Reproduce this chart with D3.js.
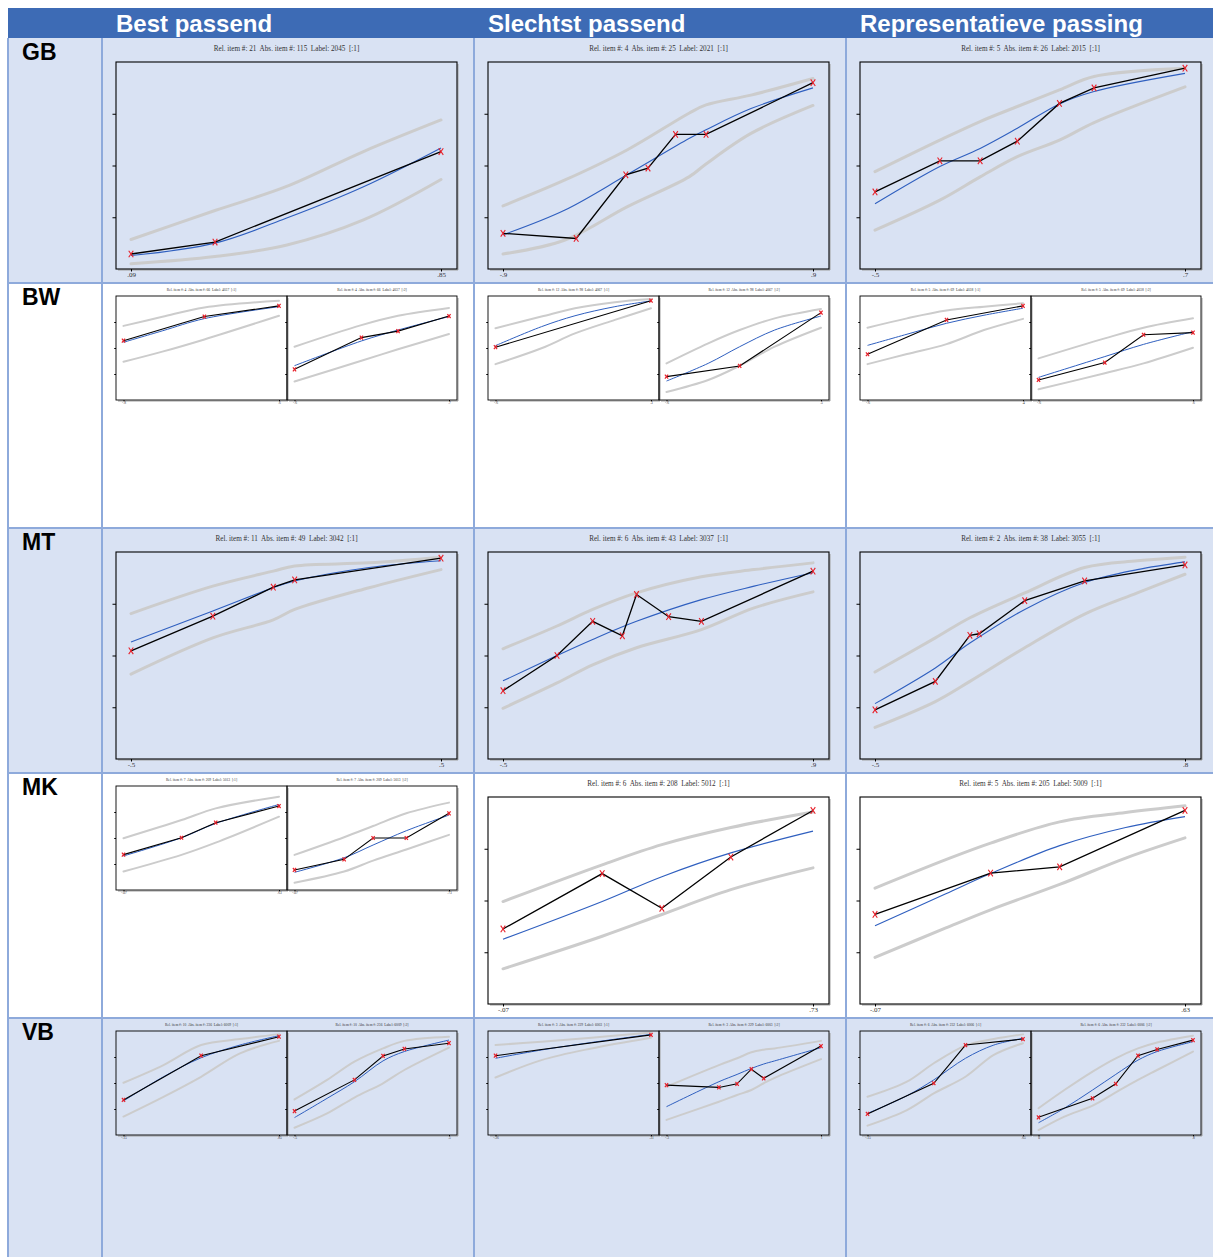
<!DOCTYPE html>
<html>
<head>
<meta charset="utf-8">
<script src="https://cdn.jsdelivr.net/npm/d3@7"></script>
<style>
  html, body { margin: 0; padding: 0; background: #ffffff; }
  svg { display: block; }
  text { white-space: pre; }
</style>
</head>
<body>
<svg id="chart" width="1213" height="1257"></svg>
<script>
// Table structure
const columns = ["Best passend", "Slechtst passend", "Representatieve passing"];
const rows = ["GB", "BW", "MT", "MK", "VB"];
// panels shown in each table cell (row -> column -> panel ids)
const cellPanels = [
  [[0], [1], [2]],
  [[3, 4], [5, 6], [7, 8]],
  [[9], [10], [11]],
  [[12, 13], [14], [15]],
  [[16, 17], [18, 19], [20, 21]]
];

const panelTitles = [
  "Rel. item #: 21  Abs. item #: 115  Label: 2045  [:1]",
  "Rel. item #: 4  Abs. item #: 25  Label: 2021  [:1]",
  "Rel. item #: 5  Abs. item #: 26  Label: 2015  [:1]",
  "Rel. item #: 4  Abs. item #: 66  Label: 4037  [:1]",
  "Rel. item #: 4  Abs. item #: 66  Label: 4037  [:2]",
  "Rel. item #: 12  Abs. item #: 98  Label: 4067  [:1]",
  "Rel. item #: 12  Abs. item #: 98  Label: 4067  [:2]",
  "Rel. item #: 5  Abs. item #: 69  Label: 4038  [:1]",
  "Rel. item #: 5  Abs. item #: 69  Label: 4038  [:2]",
  "Rel. item #: 11  Abs. item #: 49  Label: 3042  [:1]",
  "Rel. item #: 6  Abs. item #: 43  Label: 3037  [:1]",
  "Rel. item #: 2  Abs. item #: 38  Label: 3055  [:1]",
  "Rel. item #: 7  Abs. item #: 209  Label: 5013  [:1]",
  "Rel. item #: 7  Abs. item #: 209  Label: 5013  [:2]",
  "Rel. item #: 6  Abs. item #: 208  Label: 5012  [:1]",
  "Rel. item #: 5  Abs. item #: 205  Label: 5009  [:1]",
  "Rel. item #: 10  Abs. item #: 236  Label: 6009  [:1]",
  "Rel. item #: 10  Abs. item #: 236  Label: 6009  [:2]",
  "Rel. item #: 3  Abs. item #: 229  Label: 6003  [:1]",
  "Rel. item #: 3  Abs. item #: 229  Label: 6003  [:2]",
  "Rel. item #: 6  Abs. item #: 232  Label: 6006  [:1]",
  "Rel. item #: 6  Abs. item #: 232  Label: 6006  [:2]"
];

// x-axis tick values (lowest and highest measure) per panel
const xTicks = [
  [0.09, 0.85], [-0.9, 0.9], [-0.5, 0.7],
  [-0.8, 0.6], [-0.6, 0.7], [-0.6, 0.3], [-0.6, 0.5], [-0.6, 0.4], [-0.6, 0.6],
  [-0.5, 0.5], [-0.5, 0.9], [-0.5, 0.8],
  [-0.07, 0.63], [-0.07, 0.73], [-0.07, 0.73], [-0.07, 0.63],
  [-0.15, 0.85], [-0.5, 0.5], [-0.36, 0.31], [-0.3, 1], [-0.15, 0.65], [0, 0.8]
];
const yTicks = [1, 2, 3];
const yDomain = [0, 4];

// observed scores
const obsX = [
  [0.09, 0.296, 0.85],
  [-0.9, -0.475, -0.187, -0.058, 0.102, 0.279, 0.9],
  [-0.5, -0.249, -0.093, 0.051, 0.214, 0.348, 0.7],
  [-0.8, -0.072, 0.6],
  [-0.6, -0.037, 0.271, 0.7],
  [-0.6, 0.3],
  [-0.6, -0.079, 0.5],
  [-0.6, -0.092, 0.4],
  [-0.6, -0.085, 0.216, 0.6],
  [-0.5, -0.236, -0.041, 0.028, 0.5],
  [-0.5, -0.256, -0.095, 0.039, 0.103, 0.248, 0.396, 0.9],
  [-0.5, -0.247, -0.102, -0.063, 0.128, 0.379, 0.8],
  [-0.07, 0.191, 0.345, 0.63],
  [-0.07, 0.187, 0.337, 0.509, 0.73],
  [-0.07, 0.186, 0.34, 0.518, 0.73],
  [-0.07, 0.191, 0.347, 0.63],
  [-0.15, 0.349, 0.85],
  [-0.5, -0.112, 0.073, 0.211, 0.5],
  [-0.36, 0.31],
  [-0.3, 0.141, 0.294, 0.414, 0.518, 1],
  [-0.15, 0.191, 0.354, 0.65],
  [0, 0.28, 0.4, 0.515, 0.614, 0.8]
];
const obsY = [
  [0.29, 0.52, 2.27],
  [0.69, 0.59, 1.82, 1.95, 2.6, 2.6, 3.6],
  [1.49, 2.09, 2.09, 2.47, 3.2, 3.5, 3.88],
  [2.28, 3.21, 3.62],
  [1.18, 2.4, 2.65, 3.23],
  [2.03, 3.82],
  [0.9, 1.31, 3.36],
  [1.76, 3.08, 3.62],
  [0.77, 1.44, 2.51, 2.59],
  [2.09, 2.76, 3.32, 3.46, 3.88],
  [1.32, 2.0, 2.66, 2.38, 3.18, 2.75, 2.66, 3.63],
  [0.95, 1.5, 2.39, 2.42, 3.06, 3.44, 3.75],
  [1.36, 2.01, 2.59, 3.23],
  [0.77, 1.18, 2.0, 2.0, 2.95],
  [1.45, 2.52, 1.85, 2.84, 3.74],
  [1.73, 2.53, 2.65, 3.74],
  [1.35, 3.05, 3.78],
  [0.92, 2.12, 3.04, 3.31, 3.53],
  [3.05, 3.85],
  [1.92, 1.83, 1.97, 2.53, 2.18, 3.42],
  [0.81, 1.99, 3.46, 3.69],
  [0.68, 1.41, 1.97, 3.05, 3.29, 3.65]
];

// model curves: expected score and the upper / lower confidence bands
const curveX = [
  [0.09, 0.296, 0.47, 0.66, 0.85],
  [-0.9, -0.54, -0.18, 0.18, 0.279, 0.54, 0.9],
  [-0.5, -0.249, -0.093, 0.051, 0.214, 0.348, 0.7],
  [-0.8, -0.45, -0.072, 0.6],
  [-0.6, -0.037, 0.271, 0.7],
  [-0.6, -0.334, -0.14, 0.091, 0.3],
  [-0.6, -0.303, -0.079, 0.17, 0.5],
  [-0.6, -0.346, -0.092, 0.149, 0.4],
  [-0.6, -0.085, 0.216, 0.6],
  [-0.5, -0.236, -0.041, 0.028, 0.268, 0.5],
  [-0.5, -0.256, -0.095, 0.103, 0.396, 0.634, 0.9],
  [-0.5, -0.247, -0.102, 0.128, 0.379, 0.6, 0.8],
  [-0.07, 0.191, 0.345, 0.63],
  [-0.07, 0.187, 0.337, 0.509, 0.73],
  [-0.07, 0.186, 0.34, 0.518, 0.73],
  [-0.07, 0.09, 0.191, 0.347, 0.496, 0.63],
  [-0.15, 0.107, 0.349, 0.599, 0.85],
  [-0.5, -0.289, -0.112, 0.073, 0.211, 0.5],
  [-0.36, -0.162, 0.054, 0.31],
  [-0.3, 0.141, 0.294, 0.414, 0.518, 0.61, 1],
  [-0.15, 0.053, 0.191, 0.354, 0.5, 0.65],
  [0, 0.134, 0.28, 0.4, 0.515, 0.614, 0.8]
];
const expY = [
  [0.26, 0.5, 0.98, 1.59, 2.34],
  [0.66, 1.14, 1.82, 2.52, 2.69, 3.1, 3.5],
  [1.26, 1.98, 2.33, 2.72, 3.19, 3.43, 3.78],
  [2.22, 2.66, 3.13, 3.59],
  [1.32, 2.27, 2.69, 3.21],
  [2.09, 2.82, 3.24, 3.59, 3.81],
  [0.73, 1.41, 2.05, 2.69, 3.23],
  [2.1, 2.53, 2.95, 3.26, 3.53],
  [0.87, 1.67, 2.14, 2.63],
  [2.26, 2.86, 3.31, 3.44, 3.7, 3.83],
  [1.51, 2.0, 2.31, 2.66, 3.08, 3.34, 3.6],
  [1.07, 1.76, 2.24, 2.89, 3.41, 3.66, 3.81],
  [1.31, 2.01, 2.56, 3.29],
  [0.68, 1.24, 1.73, 2.28, 2.88],
  [1.25, 1.98, 2.46, 2.92, 3.34],
  [1.51, 2.13, 2.52, 3.06, 3.41, 3.62],
  [1.31, 2.24, 2.97, 3.46, 3.82],
  [0.67, 1.41, 2.05, 2.85, 3.21, 3.65],
  [2.95, 3.27, 3.56, 3.87],
  [1.09, 2.05, 2.33, 2.56, 2.73, 2.85, 3.36],
  [0.83, 1.51, 2.12, 2.95, 3.46, 3.72],
  [0.47, 1.03, 1.73, 2.33, 2.88, 3.21, 3.59]
];
const upperY = [
  [0.57, 1.13, 1.59, 2.27, 2.88],
  [1.22, 1.72, 2.3, 3.01, 3.17, 3.36, 3.68],
  [1.88, 2.49, 2.85, 3.14, 3.46, 3.72, 3.88],
  [2.85, 3.2, 3.56, 3.82],
  [2.05, 2.88, 3.24, 3.54],
  [2.76, 3.21, 3.53, 3.76, 3.88],
  [1.41, 2.18, 2.69, 3.14, 3.5],
  [2.78, 3.14, 3.44, 3.59, 3.72],
  [1.6, 2.37, 2.78, 3.14],
  [2.81, 3.34, 3.63, 3.73, 3.79, 3.9],
  [2.13, 2.57, 2.89, 3.21, 3.52, 3.66, 3.79],
  [1.68, 2.34, 2.73, 3.21, 3.7, 3.83, 3.9],
  [1.99, 2.69, 3.14, 3.59],
  [1.35, 2.03, 2.46, 2.95, 3.36],
  [1.98, 2.69, 3.08, 3.41, 3.71],
  [2.24, 2.79, 3.11, 3.52, 3.7, 3.83],
  [2.01, 2.69, 3.46, 3.69, 3.88],
  [1.37, 2.12, 2.82, 3.33, 3.62, 3.78],
  [3.46, 3.59, 3.74, 3.94],
  [1.86, 2.69, 2.95, 3.18, 3.28, 3.33, 3.62],
  [1.47, 2.05, 2.76, 3.44, 3.69, 3.87],
  [1.03, 1.73, 2.44, 2.95, 3.33, 3.56, 3.82]
];
const lowerY = [
  [0.1, 0.24, 0.46, 0.95, 1.73],
  [0.29, 0.56, 1.2, 1.78, 2.03, 2.62, 3.16],
  [0.75, 1.33, 1.78, 2.17, 2.49, 2.83, 3.52],
  [1.47, 1.86, 2.33, 3.24],
  [0.71, 1.51, 1.95, 2.54],
  [1.38, 1.99, 2.56, 3.08, 3.53],
  [0.31, 0.77, 1.32, 2.05, 2.78],
  [1.38, 1.77, 2.15, 2.69, 3.12],
  [0.41, 1.03, 1.41, 2.01],
  [1.64, 2.34, 2.69, 2.89, 3.31, 3.66],
  [0.98, 1.47, 1.82, 2.15, 2.5, 2.92, 3.23],
  [0.61, 1.11, 1.5, 2.15, 2.8, 3.21, 3.57],
  [0.71, 1.35, 1.82, 2.82],
  [0.28, 0.71, 1.13, 1.56, 2.12],
  [0.68, 1.31, 1.73, 2.21, 2.63],
  [0.9, 1.47, 1.82, 2.31, 2.82, 3.21],
  [0.71, 1.47, 2.24, 3.14, 3.62],
  [0.28, 0.83, 1.44, 1.99, 2.5, 3.36],
  [2.21, 2.88, 3.33, 3.74],
  [0.58, 1.28, 1.54, 1.73, 1.99, 2.2, 2.92],
  [0.36, 0.96, 1.6, 2.24, 3.08, 3.53],
  [0.19, 0.71, 1.13, 1.64, 2.12, 2.5, 3.21]
];

// ---------- layout ----------
const tableX = 8, headerY = 8, headerH = 30;
const labelColW = 94, colW = 372, rowH = 245;
const bandFill = ["#d9e2f3", "#ffffff"];
const gridColor = "#8eaadb";
const headerColor = "#3d6bb5";

const svg = d3.select("#chart");
const bodyY = headerY + headerH;
const colX = i => tableX + labelColW + i * colW;

// header band
svg.append("rect").attr("x", tableX).attr("y", headerY)
  .attr("width", 1213 - tableX).attr("height", headerH).attr("fill", headerColor);
svg.selectAll("text.colhead").data(columns).join("text")
  .attr("class", "colhead")
  .attr("x", (d, i) => colX(i) + 14)
  .attr("y", headerY + 24)
  .attr("font-family", "'Liberation Sans', Arial, sans-serif")
  .attr("font-weight", "bold").attr("font-size", 24)
  .attr("fill", "#ffffff").text(d => d);

// row backgrounds and row labels
rows.forEach((r, i) => {
  svg.append("rect").attr("x", tableX).attr("y", bodyY + i * rowH)
    .attr("width", 1213 - tableX + 10).attr("height", rowH)
    .attr("fill", bandFill[i % 2]);
  svg.append("text").attr("x", tableX + 14).attr("y", bodyY + i * rowH + 22)
    .attr("font-family", "'Liberation Sans', Arial, sans-serif")
    .attr("font-weight", "bold").attr("font-size", 23)
    .attr("fill", "#000000").text(r);
});

// grid lines
const grid = svg.append("g").attr("stroke", gridColor).attr("stroke-width", 2);
[tableX, colX(0), colX(1), colX(2), colX(3)].forEach(x =>
  grid.append("line").attr("x1", x).attr("x2", x).attr("y1", bodyY).attr("y2", 1257));
rows.forEach((r, i) => {
  if (i > 0) grid.append("line").attr("x1", tableX).attr("x2", 1213)
    .attr("y1", bodyY + i * rowH).attr("y2", bodyY + i * rowH);
});

const fmtTick = v => String(v).replace(/^(-?)0\./, "$1.");

function drawPanel(p, x0, y0, w, h, s) {
  const g = svg.append("g");
  const x = d3.scaleLinear().domain(xTicks[p]).range([x0 + 15 * s, x0 + w - 16 * s]);
  const y = d3.scaleLinear().domain(yDomain).range([y0 + h, y0]);

  g.append("text")
    .attr("x", x0 + w / 2).attr("y", y0 - 13 * s + 2.4 * s)
    .attr("text-anchor", "middle")
    .attr("font-family", "'Liberation Serif', 'Times New Roman', serif")
    .attr("font-size", 7.2 * s).attr("fill", "#333333")
    .text(panelTitles[p]);

  const smooth = d3.line().x(d => x(d[0])).y(d => y(d[1])).curve(d3.curveCatmullRom.alpha(0.5));
  const straight = d3.line().x(d => x(d[0])).y(d => y(d[1]));
  const cx = curveX[p];

  [upperY[p], lowerY[p]].forEach(band => {
    g.append("path").attr("d", smooth(d3.zip(cx, band)))
      .attr("fill", "none").attr("stroke", "#cccccc")
      .attr("stroke-width", s === 1 ? 3 : 2).attr("stroke-linecap", "round");
  });
  g.append("path").attr("d", smooth(d3.zip(cx, expY[p])))
    .attr("fill", "none").attr("stroke", "#2f5fbf").attr("stroke-width", s === 1 ? 1.1 : 1);
  const obs = d3.zip(obsX[p], obsY[p]);
  g.append("path").attr("d", straight(obs))
    .attr("fill", "none").attr("stroke", "#000000").attr("stroke-width", s === 1 ? 1.3 : 1.1);

  const mw = 2.3 * (s === 1 ? 1 : 0.7), mh = 3.3 * (s === 1 ? 1 : 0.6);
  g.selectAll("path.mk").data(obs).join("path").attr("class", "mk")
    .attr("d", d => {
      const px = x(d[0]), py = y(d[1]);
      return `M${px - mw},${py - mh}L${px + mw},${py + mh}M${px - mw},${py + mh}L${px + mw},${py - mh}`;
    })
    .attr("stroke", "#e8202a").attr("stroke-width", s === 1 ? 1.1 : 1.2).attr("fill", "none");

  // frame with a soft shadow on the right and bottom
  g.append("path")
    .attr("d", `M${x0 + 2},${y0 + h + 1}H${x0 + w + 1}V${y0 + 2}`)
    .attr("fill", "none").attr("stroke", "#a0a0a0").attr("stroke-width", 1);
  g.append("rect").attr("x", x0).attr("y", y0).attr("width", w).attr("height", h)
    .attr("fill", "none").attr("stroke", "#000000").attr("stroke-width", s === 1 ? 1.1 : 0.9);

  const ay = g.append("g").attr("transform", `translate(${x0},0)`)
    .call(d3.axisLeft(y).tickValues(yTicks).tickSize(3.5 * s).tickFormat(""));
  ay.select(".domain").remove();
  ay.selectAll("line").attr("stroke", "#000").attr("stroke-width", 1);

  const ax = g.append("g").attr("transform", `translate(0,${y0 + h})`)
    .call(d3.axisBottom(x).tickValues(xTicks[p]).tickSize(2.5 * s).tickPadding(0.5 * s).tickFormat(fmtTick));
  ax.select(".domain").remove();
  ax.selectAll("line").attr("stroke", "#000").attr("stroke-width", 1);
  ax.selectAll("text")
    .attr("font-family", "'Liberation Serif', 'Times New Roman', serif")
    .attr("font-size", 7 * s).attr("fill", "#333333");
}

cellPanels.forEach((rowCells, ri) => {
  rowCells.forEach((ids, ci) => {
    const cx0 = colX(ci), cy0 = bodyY + ri * rowH;
    if (ids.length === 1) {
      drawPanel(ids[0], cx0 + 14, cy0 + 24, 341, 207, 1);
    } else {
      drawPanel(ids[0], cx0 + 14, cy0 + 13, 171, 104, 0.5);
      drawPanel(ids[1], cx0 + 185, cy0 + 13, 170, 104, 0.5);
    }
  });
});
</script>
</body>
</html>
